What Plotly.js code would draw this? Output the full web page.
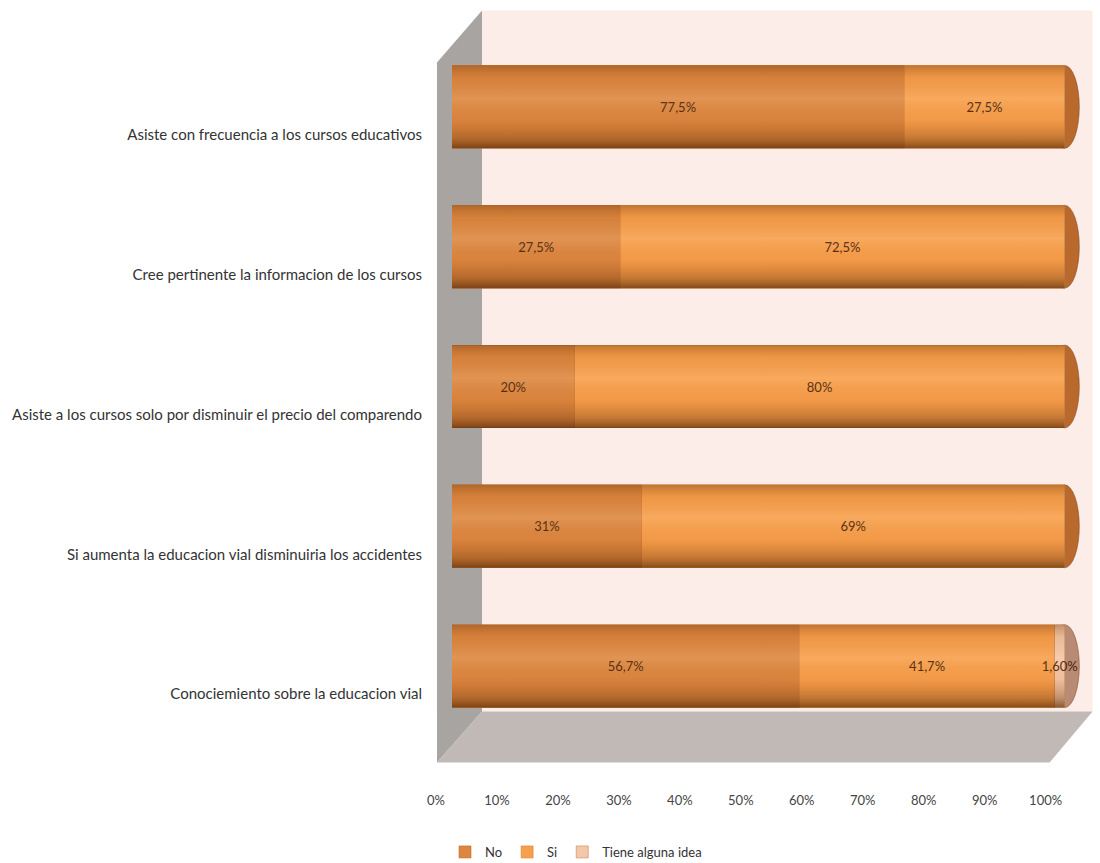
<!DOCTYPE html>
<html>
<head>
<meta charset="utf-8">
<script src="https://cdn.plot.ly/plotly-3.0.1.min.js"></script>
<style>html,body{margin:0;padding:0;background:#fff;}#chart{width:1100px;height:863px;}</style>
</head>
<body>
<div id="chart"></div>
<script>
// Categories, bottom to top
var categories = [
  "Conociemiento sobre la educacion vial",
  "Si aumenta la educacion vial disminuiria los accidentes",
  "Asiste a los cursos solo por disminuir el precio del comparendo",
  "Cree pertinente la informacion de los cursos",
  "Asiste con frecuencia a los cursos educativos"
];
var noValues    = [56.7, 31, 20, 27.5, 77.5];
var siValues    = [41.7, 69, 80, 72.5, 27.5];
var ideaValues  = [1.6, 0, 0, 0, 0];
var noLabels    = ["56,7%", "31%", "20%", "27,5%", "77,5%"];
var siLabels    = ["41,7%", "69%", "80%", "72,5%", "27,5%"];
var ideaLabels  = ["1,60%", "", "", "", ""];
var seriesNames = ["No", "Si", "Tiene alguna idea"];
var xTickVals   = [0, 10, 20, 30, 40, 50, 60, 70, 80, 90, 100];
var xTickText   = ["0%", "10%", "20%", "30%", "40%", "50%", "60%", "70%", "80%", "90%", "100%"];

var W = 1100, H = 863;
var plotL = 436, plotR = 1083.4, plotT = 36.5, plotB = 736.5;
var pw = plotR - plotL, ph = plotB - plotT;
function px(x){ return (x - plotL) / pw; }
function py(y){ return (plotB - y) / ph; }
function poly(pts){
  return pts.map(function(p, i){ return (i ? "L" : "M") + px(p[0]).toFixed(4) + "," + py(p[1]).toFixed(4); }).join(" ") + " Z";
}

var FONT = "Lato, 'Open Sans', 'Liberation Sans', sans-serif";
var BARW = 0.593;
var idx = categories.map(function(c, i){ return i; });
var labelFont = {family: FONT, size: 13, color: "#4a2307"};

function barTrace(name, vals, labels, color, lineColor){
  return {
    type: "bar", orientation: "h", name: name,
    x: vals, y: idx, text: labels,
    textposition: "inside", insidetextanchor: "middle", constraintext: "none", textangle: 0,
    textfont: labelFont,
    marker: {color: color, line: {color: lineColor, width: 0.6}},
    width: BARW,
    hoverinfo: "x+name"
  };
}

var traces = [
  barTrace(seriesNames[0], noValues, noLabels, "#dc8640", "#c0702e"),
  barTrace(seriesNames[1], siValues, siLabels, "#f89f4c", "#d9843a"),
  barTrace(seriesNames[2], ideaValues, ideaLabels, "#f4c7a8", "#c98a5a")
];

// cylinder shading overlay, one per row (bars are normalised to 100)
idx.forEach(function(i){
  var y0 = i - BARW / 2, y1 = i + BARW / 2;
  traces.push({
    type: "scatter", mode: "lines", x: [0, 100, 100, 0, 0], y: [y0, y0, y1, y1, y0],
    fill: "toself", line: {width: 0}, showlegend: false, hoverinfo: "skip",
    fillgradient: {type: "vertical", start: y0, stop: y1, colorscale: [
      [0, "rgba(70,30,0,0.65)"], [0.12, "rgba(110,55,10,0.38)"], [0.35, "rgba(160,80,20,0.06)"],
      [0.6, "rgba(255,235,200,0.14)"], [0.85, "rgba(150,75,15,0.10)"], [1, "rgba(110,55,10,0.40)"]]}
  });
});

// empty trace that carries the tick-label axis
traces.push({type: "scatter", x: [], y: [], xaxis: "x2", yaxis: "y", showlegend: false, hoverinfo: "skip"});

var shapes = [
  {type: "path", xref: "paper", yref: "paper", layer: "below", line: {width: 0},
   fillcolor: "#fcede8", path: poly([[482,10],[1093,10],[1093,712],[482,712]])},
  {type: "path", xref: "paper", yref: "paper", layer: "below", line: {width: 0},
   fillcolor: "#a8a4a2", path: poly([[437,62],[482,10],[482,712],[437,763]])},
  {type: "path", xref: "paper", yref: "paper", layer: "below", line: {width: 0},
   fillcolor: "#c0b9b5", path: poly([[437,763],[482,712],[1093,712],[1050,763]])}
];
// cylinder end caps (only the part beyond the bar end shows)
idx.forEach(function(i){
  shapes.push({type: "circle", xref: "x", yref: "y", layer: "below",
    x0: 97.6, x1: 102.4, y0: i - BARW / 2, y1: i + BARW / 2,
    fillcolor: ideaValues[i] > 0 ? "#b98a74" : "#b9692c", line: {color: "rgba(120,60,15,0.6)", width: 0.8}});
});

var layout = {
  width: W, height: H, autosize: false,
  margin: {l: plotL, r: W - plotR, t: plotT, b: H - plotB, pad: 0},
  paper_bgcolor: "#ffffff", plot_bgcolor: "rgba(0,0,0,0)",
  barmode: "stack", barnorm: "percent",
  showlegend: true,
  legend: {orientation: "h", xref: "container", yref: "container",
           x: 445 / W, xanchor: "left", y: (H - 852) / H, yanchor: "middle",
           font: {family: FONT, size: 13, color: "#333333"},
           bgcolor: "rgba(0,0,0,0)", itemwidth: 30, traceorder: "normal"},
  xaxis: {domain: [px(452), 1], range: [0, 103], showgrid: false, zeroline: false,
          showticklabels: false, ticks: "", showline: false, fixedrange: true},
  xaxis2: {domain: [0, px(1046)], range: [0, 100], anchor: "y", side: "bottom",
           tickvals: xTickVals, ticktext: xTickText, showgrid: false, zeroline: false,
           showline: false, ticks: "", ticklabelstandoff: 55,
           tickfont: {family: FONT, size: 13, color: "#444444"}},
  yaxis: {range: [-0.5, 4.5], tickvals: idx, ticktext: categories, showgrid: false,
          zeroline: false, showline: false, ticks: "", ticklabelstandoff: 29, ticklabelshift: 28,
          tickfont: {family: FONT, size: 15, color: "#333333"},
          fixedrange: true},
  shapes: shapes
};

Plotly.newPlot("chart", traces, layout, {displayModeBar: false, staticPlot: true});
</script>
</body>
</html>
